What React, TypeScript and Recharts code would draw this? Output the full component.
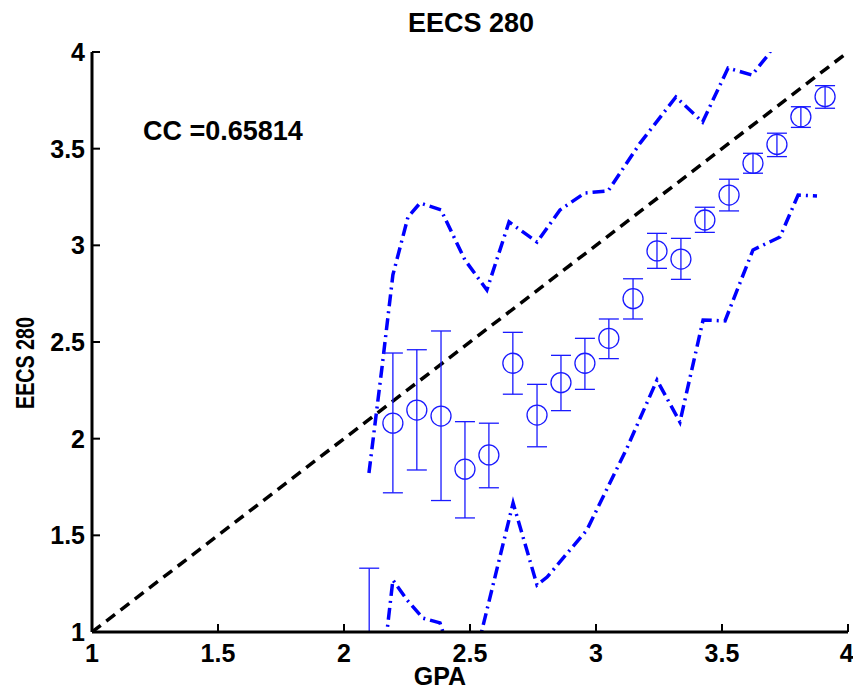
import React from "react"
import { ComposedChart, Line, Scatter, XAxis, YAxis, ErrorBar } from "recharts"

// binned GPA centres and EECS 280 mean grade with error bar ends
const gpaBins = [2.1, 2.194, 2.289, 2.385, 2.48, 2.575, 2.67, 2.766, 2.861, 2.956, 3.051, 3.147, 3.242, 3.337, 3.432, 3.528, 3.623, 3.718, 3.813, 3.909]
const meanGrade = [0.85, 2.08, 2.148, 2.117, 1.842, 1.916, 2.39, 2.122, 2.29, 2.39, 2.519, 2.724, 2.971, 2.929, 3.131, 3.26, 3.424, 3.522, 3.665, 3.769]
const barTop = [1.33, 2.443, 2.46, 2.557, 2.088, 2.08, 2.55, 2.281, 2.431, 2.519, 2.619, 2.827, 3.062, 3.036, 3.197, 3.342, 3.476, 3.58, 3.717, 3.826]
const barLow = [0.37, 1.72, 1.838, 1.68, 1.59, 1.746, 2.23, 1.958, 2.145, 2.255, 2.414, 2.619, 2.881, 2.824, 3.067, 3.178, 3.373, 3.459, 3.61, 3.709]

// upper envelope (dash-dot)
const upperX = [2.099, 2.151, 2.194, 2.254, 2.302, 2.385, 2.48, 2.567, 2.655, 2.766, 2.857, 2.956, 3.048, 3.175, 3.317, 3.423, 3.524, 3.619, 3.683, 3.718]
const upperY = [1.822, 2.371, 2.847, 3.147, 3.219, 3.183, 2.924, 2.769, 3.121, 3.017, 3.183, 3.271, 3.281, 3.529, 3.767, 3.638, 3.917, 3.881, 3.985, 4.06]

// lower envelope (dash-dot)
const lowerX = [2.1, 2.194, 2.25, 2.313, 2.381, 2.48, 2.671, 2.766, 2.806, 2.964, 3.123, 3.242, 3.333, 3.425, 3.512, 3.571, 3.623, 3.73, 3.802, 3.877]
const lowerY = [0.2, 1.269, 1.166, 1.072, 1.047, 0.65, 1.667, 1.243, 1.284, 1.528, 1.952, 2.303, 2.086, 2.614, 2.609, 2.805, 2.976, 3.043, 3.26, 3.255]

// y = x reference
const diagX = [1, 4]
const diagY = [1, 4]

const ticks = [1, 1.5, 2, 2.5, 3, 3.5, 4]
const ccLabel = "CC =0.65814"

const points = gpaBins.map((x, i) => ({
  x,
  y: meanGrade[i],
  err: [meanGrade[i] - barLow[i], barTop[i] - meanGrade[i]],
}))
const upper = upperX.map((x, i) => ({ x, y: upperY[i] }))
const lower = lowerX.map((x, i) => ({ x, y: lowerY[i] }))
const diag = diagX.map((x, i) => ({ x, y: diagY[i] }))

const font = "'Liberation Sans', Arial, sans-serif"
const tickStyle = { fill: "#000", fontSize: 25, fontWeight: "bold", fontFamily: font }
const axisLine = { stroke: "#000", strokeWidth: 3 }
const tickLine = { stroke: "#000", strokeWidth: 2 }

const Ring = (props: any) => (
  <circle cx={props.cx} cy={props.cy} r={10} fill="none" stroke="#1a1aff" strokeWidth={1.3} />
)

export default function App() {
  return (
    <div style={{ position: "absolute", left: 0, top: 0, width: 853, height: 692, background: "#fff" }}>
      {/* error bars are not clipped by recharts, so clip them to the plot box */}
      <style>{".recharts-errorBars { clip-path: url(#plotClip); }"}</style>
      <ComposedChart width={853} height={692} margin={{ top: 52, right: 5, bottom: 0, left: 0 }}>
        <XAxis
          type="number" dataKey="x" domain={[1, 4]} ticks={ticks} allowDataOverflow
          height={60} tickSize={-8} tickMargin={20}
          axisLine={axisLine} tickLine={tickLine} tick={tickStyle}
        />
        <XAxis
          xAxisId="top" orientation="top" type="number" domain={[1, 4]} ticks={ticks} allowDataOverflow
          height={0} tickSize={-8} tickFormatter={() => ""}
          axisLine={axisLine} tickLine={tickLine}
        />
        <YAxis
          type="number" dataKey="y" domain={[1, 4]} ticks={ticks} allowDataOverflow
          width={92} tickSize={-8} tickMargin={15}
          axisLine={axisLine} tickLine={tickLine} tick={tickStyle}
        />
        <YAxis
          yAxisId="right" orientation="right" type="number" domain={[1, 4]} ticks={ticks} allowDataOverflow
          width={0} tickSize={-8} tickFormatter={() => ""}
          axisLine={axisLine} tickLine={tickLine}
        />
        <Line data={diag} dataKey="y" type="linear" stroke="#000" strokeWidth={3.5}
          strokeDasharray="11 7" dot={false} isAnimationActive={false} />
        <Line data={upper} dataKey="y" type="linear" stroke="#0000ff" strokeWidth={3.5}
          strokeDasharray="12 5 2 5" dot={false} isAnimationActive={false} />
        <Line data={lower} dataKey="y" type="linear" stroke="#0000ff" strokeWidth={3.5}
          strokeDasharray="12 5 2 5" dot={false} isAnimationActive={false} />
        <Scatter data={points} shape={Ring} isAnimationActive={false}>
          <ErrorBar dataKey="err" direction="y" width={10} stroke="#1a1aff" strokeWidth={1.3} />
        </Scatter>
      </ComposedChart>
      <svg width={853} height={692} style={{ position: "absolute", left: 0, top: 0, pointerEvents: "none" }}>
        <defs>
          <clipPath id="plotClip" clipPathUnits="userSpaceOnUse">
            <rect x={92} y={52} width={756} height={580} />
          </clipPath>
        </defs>
        <g fontFamily={font} fontWeight="bold" fill="#000">
          <text x={471} y={32} fontSize={27} textAnchor="middle">EECS 280</text>
          <text x={143} y={140} fontSize={27}>{ccLabel}</text>
          <text x={440} y={685} fontSize={25} textAnchor="middle">GPA</text>
          <text x={34} y={363} fontSize={25} textAnchor="middle" textLength={92}
            lengthAdjust="spacingAndGlyphs" transform="rotate(-90 34 363)">EECS 280</text>
        </g>
      </svg>
    </div>
  )
}
